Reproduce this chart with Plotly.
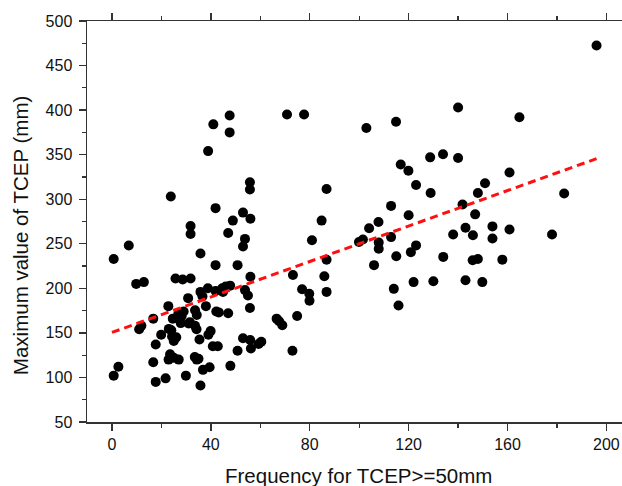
import plotly.graph_objects as go

# Scatter data (Frequency, Maximum value)
freq = [0.7, 6.8, 9.8, 12.9, 11.0, 11.9, 0.7, 2.6,
        16.7, 16.7, 17.7, 17.7, 19.9, 21.7, 22.8,
        23.0, 24.0, 23.5, 25.0, 27.0, 22.9,
        24.3, 25.0, 26.0, 24.6,
        25.7, 28.6, 31.8,
        26.8, 28.2, 29.0, 27.8, 29.9, 30.8, 31.0, 31.5,
        31.8, 31.8, 23.8,
        33.6, 34.3, 33.6, 34.2, 33.5, 34.3, 35.0,
        35.4, 35.8, 35.8, 35.8, 36.6, 36.8, 38.0, 38.8,
        39.0, 39.9, 39.5, 40.8, 42.8, 41.9, 42.2, 43.2,
        41.9, 44.6, 44.9, 46.0, 47.8, 47.0, 47.0, 47.9, 50.8, 50.8,
        53.0, 53.8, 53.0, 53.8, 55.0, 56.0, 55.8, 55.9, 56.2,
        59.3, 60.4,
        38.9, 41.0, 41.9, 47.6, 47.6, 48.9, 53.0, 55.8, 55.8, 56.0,
        66.6, 67.6, 68.9, 73.2, 73.0, 74.9, 76.9, 79.8, 79.9, 80.9,
        70.8, 77.7, 84.8, 86.8, 86.8, 85.9, 86.8,
        102.9, 114.9, 140.0, 164.8, 196.0,
        128.7, 133.9, 140.0, 116.8, 119.9, 123.0, 128.9, 112.9,
        160.8, 150.9, 148.0, 182.9, 141.8, 146.9, 120.0,
        107.8, 104.0, 112.9, 99.9, 101.5, 107.9, 107.9,
        138.0, 143.0, 146.0, 153.9, 153.9, 160.8, 178.0,
        123.0, 120.9, 106.0, 115.0, 114.0, 115.9, 122.0, 130.0,
        134.0, 143.0, 145.9, 148.0, 149.8, 157.9]

maxval = [233, 248, 205, 207, 154, 158, 102, 112,
          166, 117, 137, 95, 148, 99, 180,
          154.5, 153, 126, 122, 120, 120,
          146, 141, 145, 166,
          211, 210, 211,
          171, 169, 174, 161, 102, 189, 160.5, 162,
          261, 270, 303,
          175.5, 170, 158, 154, 123, 120, 121,
          142.5, 91, 239, 196, 191, 108.5, 180, 200,
          148, 152, 111.5, 135, 135, 226, 174, 173,
          197, 200, 196, 202, 203, 172, 262, 113, 226, 130,
          247, 255.5, 144, 198, 192, 213, 178, 142, 132.5,
          137.5, 140,
          354, 384, 290, 394, 375, 276, 285, 319, 311, 278,
          166, 163, 158.6, 215, 130, 169, 199, 194, 186, 254,
          395, 395, 276, 311.5, 232, 213.5, 196,
          380, 387, 403, 392, 472.6,
          347, 350.5, 346.3, 339, 332, 316, 307, 292.5,
          330, 318, 307, 306.5, 294, 283, 282,
          274.4, 267.4, 257.5, 252, 254.8, 251.5, 244.4,
          260.5, 268, 259.5, 269.5, 256, 266, 260.5,
          248.2, 240.6, 226, 236, 199.4, 180.7, 207, 208,
          235.3, 209, 231.5, 233, 207, 232.2]

# Linear fit
fit_x = [0, 196]
fit_intercept = 150.5
fit_slope = 0.995
fit_y = [fit_intercept + fit_slope * v for v in fit_x]

x_ticks = [0, 40, 80, 120, 160, 200]
y_ticks = [50, 100, 150, 200, 250, 300, 350, 400, 450, 500]

fig = go.Figure()
fig.add_trace(go.Scatter(
    x=freq, y=maxval, mode="markers",
    marker=dict(color="black", size=10, line=dict(width=0)),
    showlegend=False, hoverinfo="skip"))
fig.add_trace(go.Scatter(
    x=fit_x, y=fit_y, mode="lines",
    line=dict(color="#ff1010", width=3, dash="8px,5px"),
    showlegend=False, hoverinfo="skip"))

axis_font = dict(family="Liberation Sans, Arial, sans-serif", size=16, color="#111")

fig.update_layout(
    width=622, height=486,
    margin=dict(l=87, r=0, t=21, b=64),
    paper_bgcolor="white", plot_bgcolor="white",
    font=dict(family="Liberation Sans, Arial, sans-serif", color="#111"),
    xaxis=dict(
        range=[-10.1, 206.3], tickvals=x_ticks, ticktext=[str(v) for v in x_ticks],
        ticks="outside", ticklen=7, tickwidth=1.3, tickcolor="#333",
        minor=dict(ticks="outside", ticklen=4, dtick=20, tick0=0, tickcolor="#333", tickwidth=1.2),
        showline=True, linecolor="#333", linewidth=1.5, mirror="ticks",
        showgrid=False, zeroline=False, tickfont=axis_font),
    yaxis=dict(
        range=[50, 500], tickvals=y_ticks, ticktext=[str(v) for v in y_ticks],
        ticks="outside", ticklen=7, tickwidth=1.3, tickcolor="#333",
        minor=dict(ticks="outside", ticklen=4, dtick=25, tick0=0, tickcolor="#333", tickwidth=1.2),
        showline=True, linecolor="#333", linewidth=1.5,
        showgrid=False, zeroline=False, tickfont=axis_font, ticklabelstandoff=3),
    annotations=[
        dict(text="Frequency for TCEP>=50mm", xref="paper", yref="paper",
             x=0.507, y=-0.134, xanchor="center", yanchor="middle", showarrow=False,
             font=dict(family="Liberation Sans, Arial, sans-serif", size=20.5, color="#111")),
        dict(text="Maximum value of TCEP (mm)", xref="paper", yref="paper",
             x=-0.123, y=0.464, xanchor="center", yanchor="middle", showarrow=False,
             textangle=-90,
             font=dict(family="Liberation Sans, Arial, sans-serif", size=20.5, color="#111")),
    ],
)

fig.write_html("out.html",
               config={"displayModeBar": False, "staticPlot": True},
               post_script="document.body.style.margin='0';document.body.style.overflow='hidden';")
